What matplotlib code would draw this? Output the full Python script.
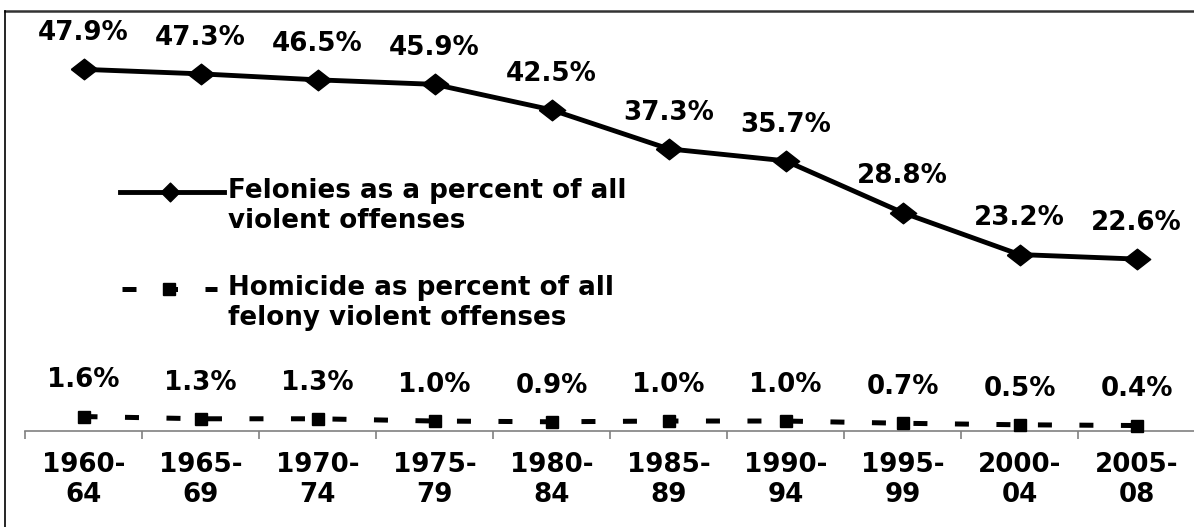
import matplotlib
matplotlib.use("Agg")
import matplotlib.pyplot as plt
from matplotlib.lines import Line2D

categories = ["1960-\n64", "1965-\n69", "1970-\n74", "1975-\n79", "1980-\n84",
              "1985-\n89", "1990-\n94", "1995-\n99", "2000-\n04", "2005-\n08"]
felonies = [47.9, 47.3, 46.5, 45.9, 42.5, 37.3, 35.7, 28.8, 23.2, 22.6]
homicide = [1.6, 1.3, 1.3, 1.0, 0.9, 1.0, 1.0, 0.7, 0.5, 0.4]
label_felonies = "Felonies as a percent of all\nviolent offenses"
label_homicide = "Homicide as percent of all\nfelony violent offenses"

W, H = 1194, 527
plt.rcParams['font.family'] = ['DejaVu Sans']
plt.rcParams['font.weight'] = 'bold'
FS = 18.8

fig = plt.figure(figsize=(W / 100, H / 100), dpi=100)
ax = fig.add_axes([25 / W, 1 - 431 / H, 1170 / W, 375 / H])

x = list(range(len(categories)))
diamond = [(-1, 0), (0, 0.78), (1, 0), (0, -0.78), (-1, 0)]
diamond_sq = [(-1, 0), (0, 1), (1, 0), (0, -1), (-1, 0)]
DASH = (0, (2.8, 5.5))
ax.plot(x, felonies, color='black', lw=3.5, marker=diamond, markersize=19,
        clip_on=False, zorder=3)
ax.plot(x, homicide, color='black', lw=3.6, linestyle=DASH,
        marker='s', markersize=8.5, clip_on=False, zorder=3)

for xi, v in zip(x, felonies):
    ax.annotate(f"{v:.1f}%", (xi, v), xytext=(0, 26), textcoords='offset points',
                ha='center', va='center', fontsize=FS, fontweight='bold')
for xi, v in zip(x, homicide):
    ax.annotate(f"{v:.1f}%", (xi, v), xytext=(0, 26), textcoords='offset points',
                ha='center', va='center', fontsize=FS, fontweight='bold')

ax.set_xlim(-0.5, len(categories) - 0.5)
ax.set_ylim(-0.33, 49.68)
for s in ['top', 'right', 'left']:
    ax.spines[s].set_visible(False)
ax.spines['bottom'].set_color('#808080')
ax.spines['bottom'].set_linewidth(1.2)
ax.set_yticks([])
ax.set_xticks(x)
ax.set_xticklabels(categories, fontsize=FS, fontweight='bold', linespacing=1.22)
ax.tick_params(axis='x', which='major', length=0, pad=15)
ax.set_xticks([i - 0.5 for i in range(len(categories) + 1)], minor=True)
ax.tick_params(axis='x', which='minor', length=6, width=1.2, color='#808080',
               direction='out')

# manual legend (pixel coordinates)
def px(xp, yp):
    return (xp / W, 1 - yp / H)

fig.add_artist(Line2D([120 / W, 224 / W], [1 - 192 / H, 1 - 192 / H],
                      transform=fig.transFigure, color='black', lw=3.5))
fig.add_artist(Line2D([170 / W], [1 - 192 / H], transform=fig.transFigure,
                      color='black', marker=diamond_sq, markersize=13.5, lw=0))
fig.add_artist(Line2D([122 / W, 217 / W], [1 - 289 / H, 1 - 289 / H],
                      transform=fig.transFigure, color='black', lw=3.6, linestyle=DASH))
fig.add_artist(Line2D([169 / W], [1 - 289 / H], transform=fig.transFigure,
                      color='black', marker='s', markersize=8.5, lw=0))
fig.text(*px(228, 178), label_felonies, ha='left', va='top', fontsize=FS,
         fontweight='bold', linespacing=1.2)
fig.text(*px(228, 275), label_homicide, ha='left', va='top', fontsize=FS,
         fontweight='bold', linespacing=1.2)

# outer frame
fig.add_artist(Line2D([5 / W, 1.0], [1 - 11 / H, 1 - 11 / H], transform=fig.transFigure,
                      color='#333333', lw=1.8))
fig.add_artist(Line2D([5 / W, 5 / W], [1 - 11 / H, 0], transform=fig.transFigure,
                      color='black', lw=1.2))

fig.savefig("out.png", dpi=100)
